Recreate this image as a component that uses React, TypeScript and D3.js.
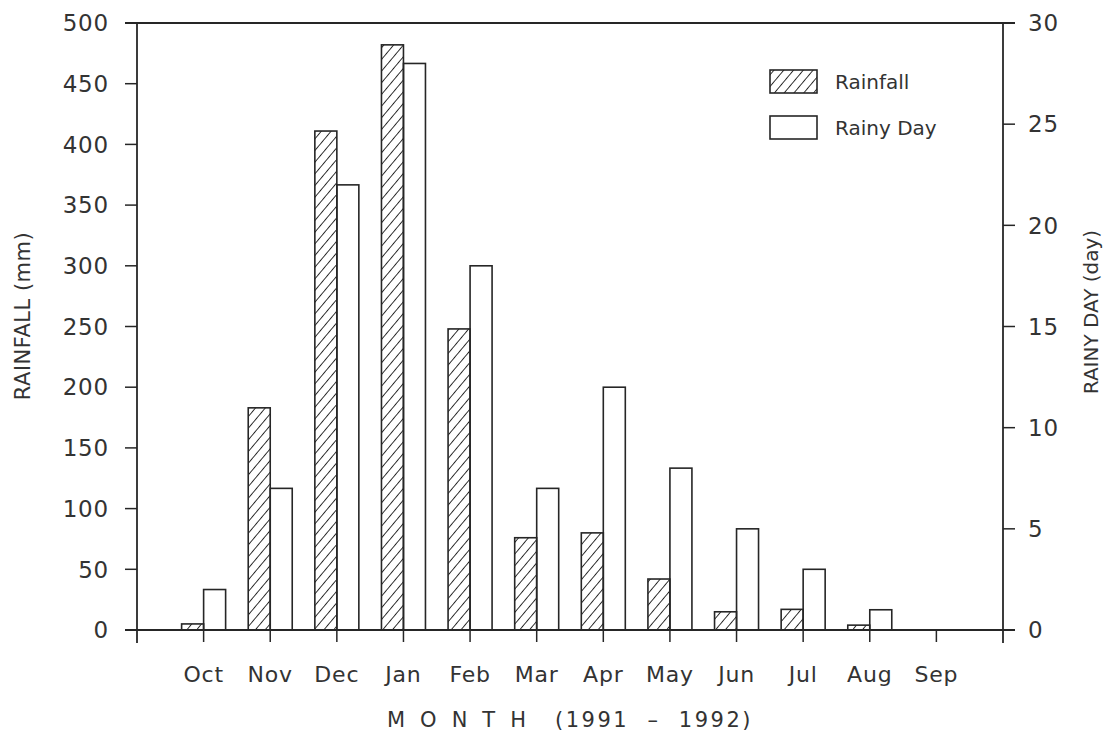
import * as d3 from "d3";

const months = ["Oct", "Nov", "Dec", "Jan", "Feb", "Mar", "Apr", "May", "Jun", "Jul", "Aug", "Sep"];
const rainfall = [5, 183, 411, 482, 248, 76, 80, 42, 15, 17, 4, 0];
const rainyDays = [2, 7, 22, 28, 18, 7, 12, 8, 5, 3, 1, 0];
const leftTicks = [0, 50, 100, 150, 200, 250, 300, 350, 400, 450, 500];
const rightTicks = [0, 5, 10, 15, 20, 25, 30];

const W = 1115;
const H = 739;
const x0 = 137;
const x1 = 1003;
const yTop = 23;
const yBase = 630;
const barW = 22;
const ink = "#262626";
const textInk = "#333";
const font = "DejaVu Sans, sans-serif";

export default function App() {
    const x = d3.scalePoint<string>().domain(months).range([x0, x1]).padding(1);
    const yL = d3.scaleLinear().domain([0, 500]).range([yBase, yTop]);
    const yR = d3.scaleLinear().domain([0, 30]).range([yBase, yTop]);

    return (
        <div style={{ position: "absolute", left: 0, top: 0 }}>
            <svg width={W} height={H} style={{ display: "block", background: "#fff" }}>
                <defs>
                    <pattern id="hatch" patternUnits="userSpaceOnUse" width="7.5" height="7.5" patternTransform="rotate(40)">
                        <line x1="0" y1="0" x2="0" y2="7.5" stroke={ink} strokeWidth="1.9" />
                    </pattern>
                </defs>

                {/* bars */}
                {months.map((m, i) => {
                    const cx = x(m)!;
                    return (
                        <g key={m}>
                            {rainfall[i] > 0 && (
                                <rect x={cx - barW} y={yL(rainfall[i])} width={barW} height={yBase - yL(rainfall[i])}
                                    fill="url(#hatch)" stroke={ink} strokeWidth={1.6} />
                            )}
                            {rainyDays[i] > 0 && (
                                <rect x={cx} y={yR(rainyDays[i])} width={barW} height={yBase - yR(rainyDays[i])}
                                    fill="none" stroke={ink} strokeWidth={1.6} />
                            )}
                        </g>
                    );
                })}

                {/* frame */}
                <g stroke={ink} strokeWidth={1.8} fill="none">
                    <line x1={x0} x2={x0} y1={yTop} y2={yBase + 13} />
                    <line x1={x1} x2={x1} y1={yTop} y2={yBase + 13} />
                    <line x1={x0 - 12} x2={x1 + 12} y1={yTop} y2={yTop} />
                    <line x1={x0 - 12} x2={x1 + 12} y1={yBase} y2={yBase} />
                </g>

                {/* left axis */}
                <g fontFamily={font} fontSize={23} fill={textInk} letterSpacing={0.8}>
                    {leftTicks.map((t) => (
                        <g key={t}>
                            <line x1={x0 - 12} x2={x0} y1={yL(t)} y2={yL(t)} stroke={ink} strokeWidth={1.5} />
                            <text x={109} y={yL(t)} dy="0.36em" textAnchor="end">{t}</text>
                        </g>
                    ))}
                </g>

                {/* right axis */}
                <g fontFamily={font} fontSize={23} fill={textInk} letterSpacing={0.8}>
                    {rightTicks.map((t) => (
                        <g key={t}>
                            <line x1={x1} x2={x1 + 12} y1={yR(t)} y2={yR(t)} stroke={ink} strokeWidth={1.5} />
                            <text x={1028} y={yR(t)} dy="0.36em" textAnchor="start">{t}</text>
                        </g>
                    ))}
                </g>

                {/* bottom axis */}
                <g fontFamily={font} fontSize={22} fill={textInk} letterSpacing={0.8}>
                    {months.map((m) => (
                        <g key={m}>
                            <line x1={x(m)} x2={x(m)} y1={yBase} y2={yBase + 12} stroke={ink} strokeWidth={1.5} />
                            <text x={x(m)} y={682} textAnchor="middle">{m}</text>
                        </g>
                    ))}
                </g>

                {/* axis titles */}
                <text transform="translate(30,316) rotate(-90)" textAnchor="middle" fontFamily={font} fontSize={21} fill={textInk} letterSpacing={0.5}>
                    RAINFALL (mm)
                </text>
                <text transform="translate(1098,312) rotate(-90)" textAnchor="middle" fontFamily={font} fontSize={20} fill={textInk}>
                    RAINY DAY (day)
                </text>
                <text x={387} y={727} fontFamily={font} fontSize={21} fill={textInk} letterSpacing={15}>
                    MONTH
                </text>
                <text x={555} y={727} fontFamily={font} fontSize={21} fill={textInk} letterSpacing={2.5} xmlSpace="preserve">
                    {"(1991  –  1992)"}
                </text>

                {/* legend */}
                <rect x={770} y={70} width={47} height={23} fill="url(#hatch)" stroke={ink} strokeWidth={1.6} />
                <text x={835} y={82} dy="0.36em" fontFamily={font} fontSize={20} fill={textInk}>Rainfall</text>
                <rect x={770} y={116} width={47} height={23} fill="none" stroke={ink} strokeWidth={1.6} />
                <text x={835} y={128} dy="0.36em" fontFamily={font} fontSize={20} fill={textInk}>Rainy Day</text>
            </svg>
        </div>
    );
}
